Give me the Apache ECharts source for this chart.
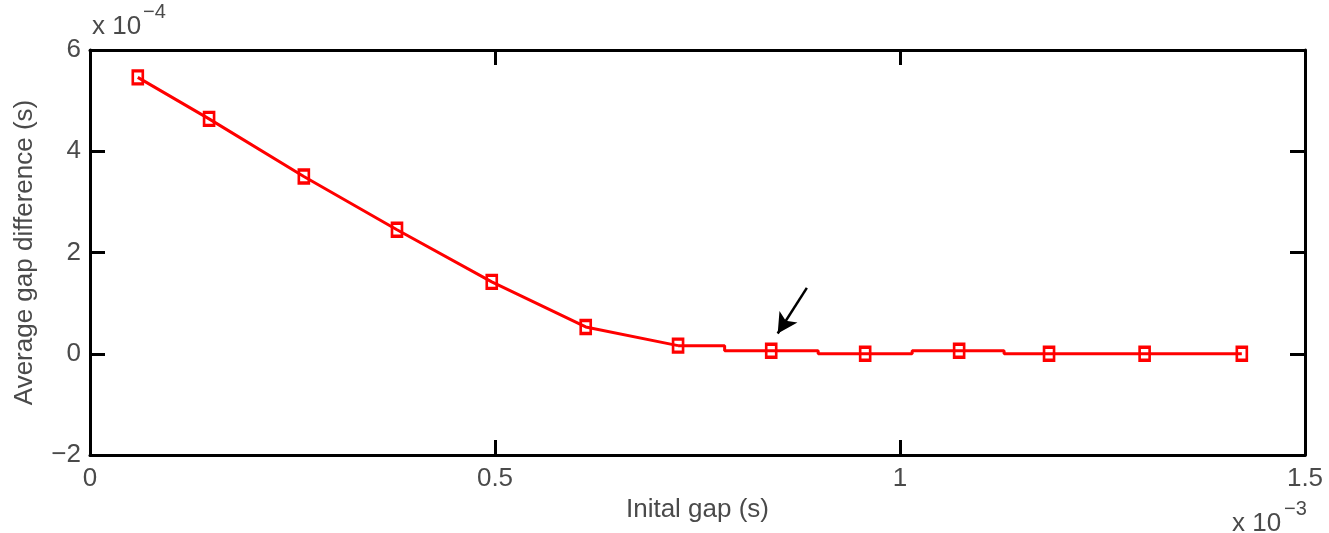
<!DOCTYPE html>
<html>
<head>
<meta charset="utf-8">
<title>Average gap difference</title>
<script src="https://cdn.jsdelivr.net/npm/echarts@6/dist/echarts.min.js"></script>
<style>
  html, body { margin: 0; padding: 0; background: #fff; }
  #chart { width: 1329px; height: 533px; }
</style>
</head>
<body>
<div id="chart"></div>
<script>
"use strict";

/* data (x in 1e-3 s, y in 1e-4 s) */
var gapX = [0.059, 0.147, 0.264, 0.379, 0.496, 0.612, 0.726, 0.841, 0.957, 1.073, 1.184, 1.302, 1.422];
var gapDiff = [5.46, 4.64, 3.50, 2.45, 1.42, 0.53, 0.16, 0.06, 0.00, 0.06, 0.00, 0.00, 0.00];
var xTicks = [0, 0.5, 1, 1.5];
var yTicks = [-2, 0, 2, 4, 6];
var arrowFrom = [0.885, 1.30];
var arrowTo = [0.849, 0.40];

var RED = '#ff0000';
var FONT = "'Liberation Sans', Arial, sans-serif";
var TXT = '#4a4a4a';

var pts = gapX.map(function (x, i) { return [x, gapDiff[i]]; });
var headPts = pts.slice(0, 7);
var tailPts = pts.slice(6);

function fmt(v) {
	return String(v).replace('-', '\u2212');
}

var chart = echarts.init(document.getElementById('chart'));

var axisLine = { show: true, onZero: false, lineStyle: { color: '#000', width: 3 } };
var axisTick = { show: true, inside: true, length: 15, lineStyle: { color: '#000', width: 3 } };

var option = {
	animation: false,
	backgroundColor: '#fff',
	grid: { left: 90, right: 24, top: 50, bottom: 78 },
	xAxis: [{
		type: 'value',
		min: 0, max: 1.5, interval: 0.5,
		axisLine: axisLine,
		axisTick: axisTick,
		splitLine: { show: false },
		axisLabel: {
			margin: 11, color: TXT, fontFamily: FONT, fontSize: 26,
			formatter: function (v) { return xTicks.indexOf(v) >= 0 ? fmt(v) : ''; }
		},
		name: 'Inital gap (s)',
		nameLocation: 'middle',
		nameGap: 41,
		nameTextStyle: { color: TXT, fontFamily: FONT, fontSize: 26 }
	}, {
		type: 'value', position: 'top',
		min: 0, max: 1.5, interval: 0.5,
		axisLine: axisLine, axisTick: axisTick,
		axisLabel: { show: false }, splitLine: { show: false }
	}],
	yAxis: [{
		type: 'value',
		min: -2, max: 6, interval: 2,
		axisLine: axisLine,
		axisTick: axisTick,
		splitLine: { show: false },
		axisLabel: {
			margin: 9, color: TXT, fontFamily: FONT, fontSize: 26,
			formatter: function (v) { return yTicks.indexOf(v) >= 0 ? fmt(v) : ''; }
		},
		name: 'Average gap difference (s)',
		nameLocation: 'middle',
		nameRotate: 90,
		nameGap: 52,
		nameTextStyle: { color: TXT, fontFamily: FONT, fontSize: 26 }
	}, {
		type: 'value', position: 'right',
		min: -2, max: 6, interval: 2,
		axisLine: axisLine, axisTick: axisTick,
		axisLabel: { show: false }, splitLine: { show: false }
	}],
	graphic: [
		{ type: 'text', left: 92, top: 14, style: { text: 'x 10', fill: TXT, font: '26px ' + FONT } },
		{ type: 'text', left: 143, top: 2, style: { text: '\u22124', fill: TXT, font: '20px ' + FONT } },
		{ type: 'text', left: 1232, top: 511, style: { text: 'x 10', fill: TXT, font: '26px ' + FONT } },
		{ type: 'text', left: 1284, top: 499, style: { text: '\u22123', fill: TXT, font: '20px ' + FONT } }
	],
	series: [{
		name: 'curve',
		type: 'line',
		data: headPts,
		showSymbol: false,
		lineStyle: { color: RED, width: 3 },
		z: 2
	}, {
		name: 'tail',
		type: 'line',
		step: 'middle',
		data: tailPts,
		showSymbol: false,
		lineStyle: { color: RED, width: 3 },
		z: 2
	}, {
		name: 'markers',
		type: 'line',
		data: pts,
		symbol: 'rect',
		symbolSize: [10, 13],
		lineStyle: { width: 0, opacity: 0 },
		itemStyle: { color: 'rgba(0,0,0,0)', borderColor: RED, borderWidth: 3 },
		z: 3,
		markLine: {
			silent: true,
			symbol: ['none', 'arrow'],
			symbolSize: [16, 20],
			label: { show: false },
			lineStyle: { color: '#000', width: 2.5, type: 'solid' },
			data: [[{ coord: arrowFrom }, { coord: arrowTo }]]
		}
	}]
};

chart.setOption(option);
</script>
</body>
</html>
